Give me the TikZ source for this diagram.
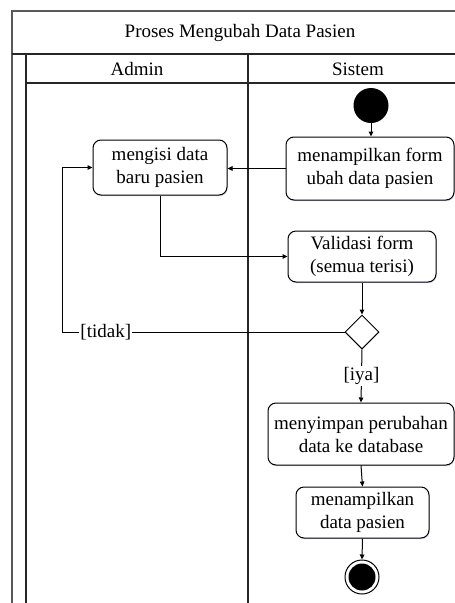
\documentclass[tikz,border=0pt]{standalone}
\usepackage{fontspec}
\setmainfont{Liberation Serif}
\usetikzlibrary{shapes.geometric,arrows.meta,shadows}
\begin{document}
\begin{tikzpicture}[x=1pt,y=-1pt,
  every node/.style={font=\fontsize{19}{23}\selectfont},
  lane/.style={line width=1.2pt, draw=black!85},
  act/.style={draw, line width=1pt, rounded corners=8pt, fill=white, align=center,
    inner sep=0pt,
    drop shadow={shadow xshift=0.6pt, shadow yshift=-1.2pt, fill=blue!40!gray, opacity=0.25}},
  flow/.style={line width=1pt, -{Triangle[length=5pt,width=4.5pt]}},
  guard/.style={fill=white, inner sep=1pt}
]
\useasboundingbox (0,0) rectangle (455,603);
\clip (0,0) rectangle (455,603);

% swimlane frame
\draw[line width=1.4pt, draw=black!65] (12,603) -- (12,11) -- (468,11);
\draw[lane] (12,54) -- (468,54);
\draw[lane] (26,603) -- (26,54);
\draw[lane] (26,83) -- (468,83);
\draw[lane] (248,54) -- (248,603);

\node (title) at (240,33) {Proses Mengubah Data Pasien};
\node (admin) at (137,69) {Admin};
\node (sistem) at (358,69) {Sistem};

% activity nodes
\node[circle, fill=black, minimum size=35pt, inner sep=0pt] (start) at (371,105.5) {};
\node[act, minimum width=168pt, minimum height=63pt] (form) at (370,168.5)
  {menampilkan form\\ubah data pasien};
\node[act, minimum width=134pt, minimum height=55pt] (isi) at (160,167.5)
  {mengisi data\\baru pasien};
\node[act, minimum width=148pt, minimum height=51pt] (valid) at (362,256.5)
  {Validasi form\\(semua terisi)};
\node[diamond, draw, line width=1pt, fill=white, minimum width=34pt, minimum height=34pt,
  inner sep=0pt] (dec) at (362,332) {};
\node[act, minimum width=186pt, minimum height=62pt] (simpan) at (361,434)
  {menyimpan perubahan\\data ke database};
\node[act, minimum width=133pt, minimum height=51pt] (tampil) at (362.5,512.5)
  {menampilkan\\data pasien};
\node[circle, draw, line width=1pt, fill=white, minimum size=34pt, inner sep=0pt] (end) at (362,577) {};
\node[circle, fill=black, minimum size=27pt, inner sep=0pt] (endcore) at (end) {};
\coordinate (loop) at (62,332);

% control flow
\draw[flow] (start.south) -- (start.south |- form.north);
\draw[flow] (form.west) -- (form.west -| isi.east);
\draw[flow] (isi.south) |- (valid.west);
\draw[flow] (valid.south) -- (dec.north);
\draw[flow] (dec.west) -- node[guard, pos=0.845] {[tidak]} (loop) |- (isi.west);
\draw[flow] (dec.south) -- node[guard] {[iya]} (simpan.north);
\draw[flow] (simpan.south) -- (tampil.north);
\draw[flow] (tampil.south) -- (end.north);
\end{tikzpicture}
\end{document}
